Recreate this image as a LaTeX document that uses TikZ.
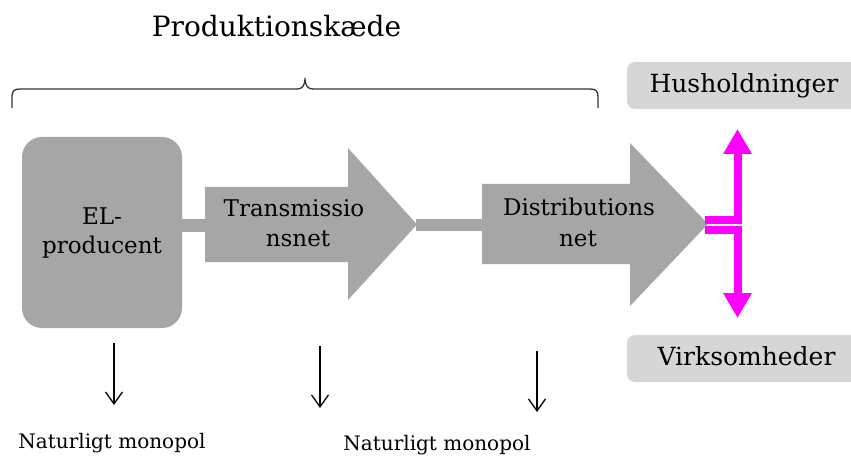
\documentclass[tikz,border=0pt]{standalone}
\usepackage{fontspec}
\setmainfont{DejaVu Serif}
\usetikzlibrary{arrows.meta}
\definecolor{shapegray}{HTML}{A6A6A6}
\definecolor{boxgray}{HTML}{D6D6D6}
\definecolor{pinkline}{HTML}{FF00FF}
\begin{document}
\begin{tikzpicture}[x=1pt,y=-1pt,
  lbl/.style={inner sep=0pt,anchor=base,font=\fontsize{23}{28}\selectfont},
  smalllbl/.style={inner sep=0pt,anchor=base,font=\fontsize{20}{24}\selectfont},
  sidelbl/.style={inner sep=0pt,anchor=base,font=\fontsize{25}{30}\selectfont},
  gshape/.style={fill=shapegray,draw=none},
  sidebox/.style={fill=boxgray,draw=none,rounded corners=8pt},
  pinkarrow/.style={draw=pinkline,line width=8pt,miter limit=10,-{Triangle[length=25pt,width=27pt]}},
  downarrow/.style={draw=black,line width=1.3pt,-{Straight Barb[length=12pt,width=17pt]}},
  bracel/.style={draw=black!80,line width=1.3pt}]
\clip (0,0) rectangle (851,457);
\fill[white] (0,0) rectangle (851,457);

% title and brace
\node[inner sep=0pt,anchor=base,font=\fontsize{28}{34}\selectfont] (title) at (276.5,37) {Produktionskæde};
\draw[bracel] (12,108) -- (12,97) .. controls (12,91) and (14,89) .. (20,89) -- (297,89)
  .. controls (302,89) and (305,86) .. (305,78) .. controls (305,86) and (308,89) .. (313,89)
  -- (590,89) .. controls (596,89) and (598,91) .. (598,97) -- (598,108);

% EL-producent
\path[gshape,rounded corners=20pt] (22,137) rectangle (182,328);
\coordinate (elc) at (102,232);
\node[lbl] (el1) at (102,225) {EL-};
\node[lbl] (el2) at (102,253) {producent};

% connector bars
\path[gshape] (181,219) rectangle (206,232);
\path[gshape] (416,219) rectangle (483,231);

% transmission arrow
\path[gshape] (205,187) -- (348,187) -- (348,148) -- (417,224.5) -- (348,300) -- (348,262) -- (205,262) -- cycle;
\node[lbl] (tr1) at (294,217) {Transmissio};
\node[lbl] (tr2) at (298,247) {nsnet};

% distribution arrow
\path[gshape] (482,184) -- (630,184) -- (630,143) -- (708,224) -- (630,306) -- (630,264) -- (482,264) -- cycle;
\coordinate (dtip) at (708,224);
\node[lbl] (di1) at (579,215) {Distributions};
\node[lbl] (di2) at (578,247) {net};

% side boxes
\path[sidebox] (627,62) rectangle (870,109);
\node[sidelbl] (hus) at (744,93) {Husholdninger};
\path[sidebox] (627,335) rectangle (870,382);
\node[sidelbl] (virk) at (746.5,365) {Virksomheder};

% magenta arrows
\coordinate (up) at (737.5,129);
\coordinate (down) at (737.5,318);
\draw[pinkarrow] (705,220) -- (737.5,220) -- (up);
\draw[pinkarrow] (705,230) -- (737.5,230) -- (down);

% down arrows and labels
\coordinate (a1s) at (114,343); \coordinate (a1e) at (114,405);
\coordinate (a2s) at (320,346); \coordinate (a2e) at (320,408);
\coordinate (a3s) at (537,351); \coordinate (a3e) at (537,412);
\draw[downarrow] (a1s) -- (a1e);
\draw[downarrow] (a2s) -- (a2e);
\draw[downarrow] (a3s) -- (a3e);
\node[smalllbl] (nm1) at (112,448) {Naturligt monopol};
\node[smalllbl] (nm2) at (437,450) {Naturligt monopol};
\end{tikzpicture}
\end{document}
